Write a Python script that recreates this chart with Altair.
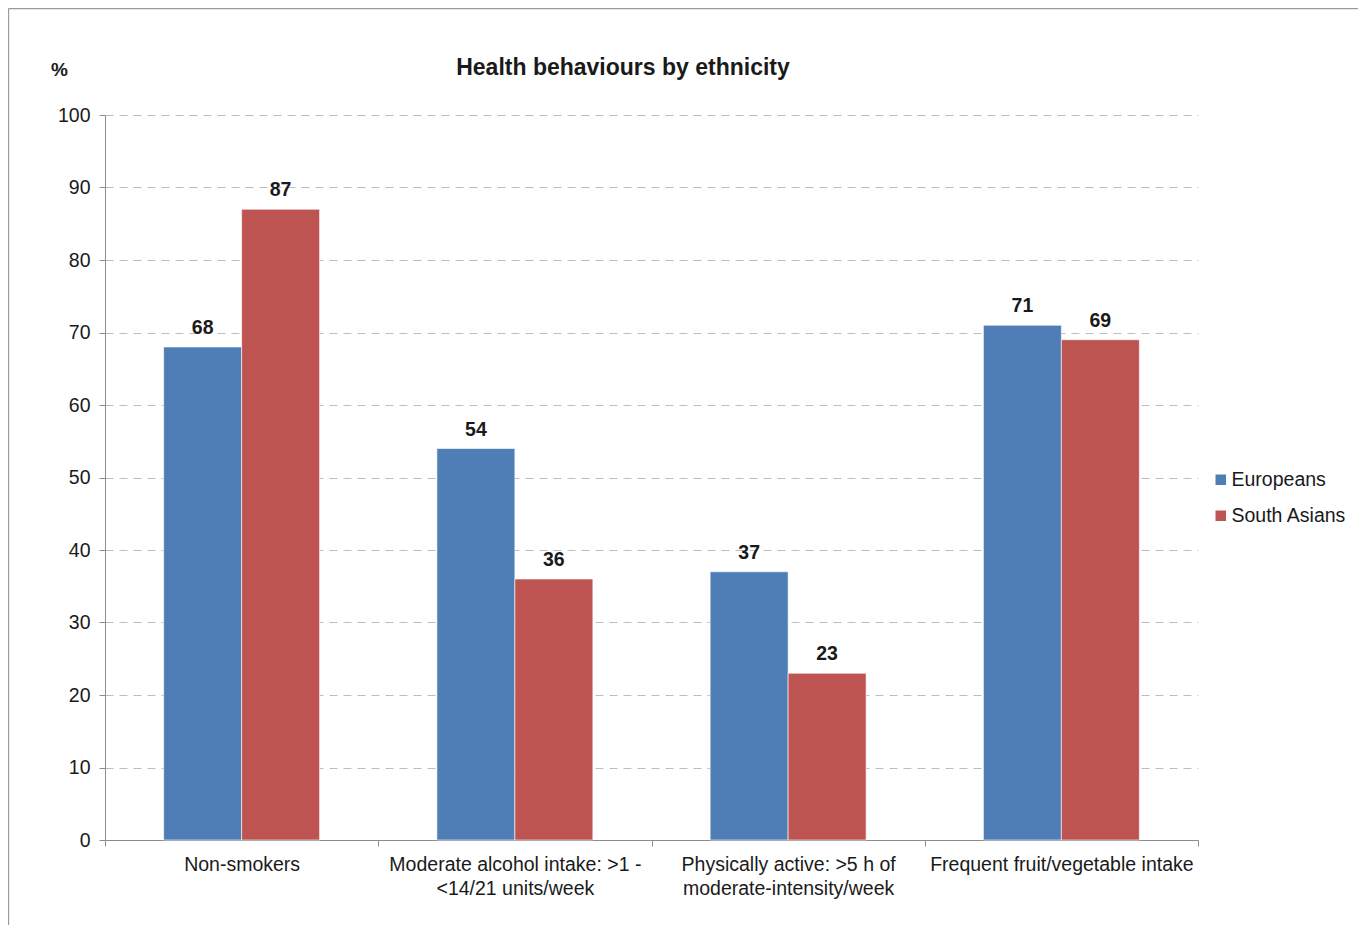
import altair as alt
import pandas as pd

categories = [
    "Non-smokers",
    "Moderate alcohol intake: >1 -\n<14/21 units/week",
    "Physically active: >5 h of\nmoderate-intensity/week",
    "Frequent fruit/vegetable intake",
]
series = ["Europeans", "South Asians"]
europeans = [68, 54, 37, 71]
south_asians = [87, 36, 23, 69]
colors = ["#4F7EB6", "#BD5452"]
title_text = "Health behaviours by ethnicity"

rows = []
for c, e, s in zip(categories, europeans, south_asians):
    rows.append({"cat": c, "grp": series[0], "val": e})
    rows.append({"cat": c, "grp": series[1], "val": s})
df = pd.DataFrame(rows)

FONT = "Liberation Sans"
W, H = 1093, 725

xscale = alt.Scale(domain=categories, paddingInner=0, paddingOuter=0)
xoff = alt.Scale(domain=series, paddingInner=0, paddingOuter=0.752)

base = alt.Chart(df)

bars = base.mark_bar(stroke="white", strokeWidth=0.6).encode(
    x=alt.X("cat:N", scale=xscale, sort=categories,
            axis=alt.Axis(title=None, labelAngle=0, ticks=True, tickBand="extent",
                          tickSize=6, tickColor="#8c8c8c", domain=True,
                          domainColor="#8c8c8c", labelFontSize=19.5, labelFont=FONT,
                          labelColor="#1a1a1a", labelPadding=9, labelLineHeight=24,
                          labelExpr="split(datum.label, '\\n')", labelLimit=400)),
    xOffset=alt.XOffset("grp:N", scale=xoff, sort=series),
    y=alt.Y("val:Q", scale=alt.Scale(domain=[0, 100], nice=False),
            axis=alt.Axis(values=list(range(0, 101, 10)), title="%", titleAngle=0,
                          titleX=-46, titleY=-46, titleAlign="center", titleBaseline="middle",
                          titleFont=FONT, titleFontSize=19, titleFontWeight="bold",
                          titleColor="#1a1a1a",
                          labelFont=FONT, labelFontSize=19.5, labelColor="#1a1a1a",
                          labelPadding=9, tickSize=6, tickColor="#8c8c8c",
                          domainColor="#8c8c8c", grid=True, gridColor="#bdbdbd",
                          gridDash=[8, 6], gridWidth=1)),
    color=alt.Color("grp:N", scale=alt.Scale(domain=series, range=colors),
                    legend=alt.Legend(title=None, orient="none", legendX=1106, legendY=355,
                                      symbolType="square", symbolSize=110,
                                      symbolStrokeWidth=0, labelFont=FONT,
                                      labelFontSize=19.5, labelColor="#1a1a1a",
                                      rowPadding=15, labelOffset=1)),
)

labels = base.mark_text(font=FONT, fontSize=19.5, fontWeight="bold", color="#1a1a1a",
                        baseline="bottom", dy=-9).encode(
    x=alt.X("cat:N", scale=xscale, sort=categories),
    xOffset=alt.XOffset("grp:N", scale=xoff, sort=series),
    y="val:Q",
    text="val:Q",
)

one = pd.DataFrame({"t": [title_text]})
title = alt.Chart(one).mark_text(font=FONT, fontSize=23, fontWeight="bold",
                                 color="#1a1a1a", align="center", baseline="middle").encode(
    x=alt.value(518), y=alt.value(-47), text="t:N",
)

border_left = alt.Chart(one).mark_rule(color="#9a9a9a", strokeWidth=1.3).encode(
    x=alt.value(-96.5), y=alt.value(-106.5), y2=alt.value(H + 100),
)
border_top = alt.Chart(one).mark_rule(color="#9a9a9a", strokeWidth=1.3).encode(
    x=alt.value(-96.5), x2=alt.value(W + 170), y=alt.value(-106.5),
)

chart = alt.layer(bars, labels, title, border_left, border_top).properties(
    width=W, height=H,
    autosize=alt.AutoSizeParams(type="none"),
    padding={"left": 97, "top": 107, "right": 160, "bottom": 85},
).configure_view(stroke=None)

chart.save("out.html", embed_options={"renderer": "svg", "actions": False})
